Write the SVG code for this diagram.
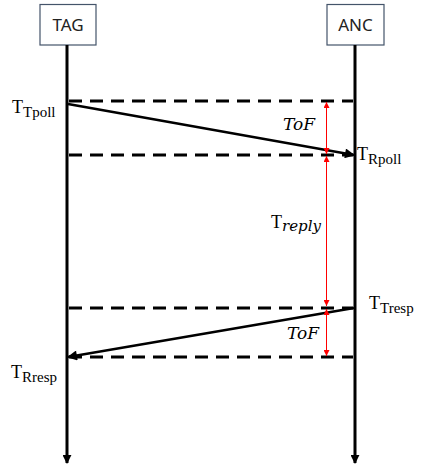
<svg xmlns="http://www.w3.org/2000/svg" width="421" height="465" viewBox="0 0 421 465">
<defs>
<style>
.box{fill:#fff;stroke:#44546a;stroke-width:1.2}
.lbl{font-family:"Noto Sans","Liberation Sans",sans-serif;font-size:17px;fill:#222;text-anchor:middle}
.life{stroke:#000;stroke-width:3;fill:none}
.dash{stroke:#000;stroke-width:3;stroke-dasharray:13 8;fill:none}
.msg{stroke:#000;stroke-width:2.5;fill:none}
.red{stroke:#f00;stroke-width:1;fill:none}
.t{font-family:"Liberation Serif","DejaVu Serif",serif;font-size:18px;fill:#000}
.sub{font-size:15px}
.it{font-family:"DejaVu Serif","Liberation Serif",serif;font-style:italic;font-size:17px;fill:#000}
</style>
<marker id="ab" viewBox="0 0 10 10" refX="9" refY="5" markerWidth="3" markerHeight="3" orient="auto-start-reverse" markerUnits="strokeWidth"><path d="M0,0 L10,5 L0,10 z" fill="#000"/></marker>
<marker id="am" viewBox="0 0 10 10" refX="9" refY="5" markerWidth="5" markerHeight="4" orient="auto-start-reverse" markerUnits="strokeWidth"><path d="M0,0 L10,5 L0,10 z" fill="#000"/></marker>
<marker id="ar" viewBox="0 0 10 10" refX="10" refY="5" markerWidth="6" markerHeight="6" orient="auto-start-reverse" markerUnits="strokeWidth"><path d="M0,0 L10,5 L0,10 z" fill="#f00"/></marker>
</defs>
<g id="TAG">
<rect class="box" x="40" y="4.5" width="56" height="40.5"/>
<text class="lbl" x="68" y="31">TAG</text>
</g>
<g id="ANC">
<rect class="box" x="327" y="4.5" width="57" height="40.5"/>
<text class="lbl" x="355.5" y="31">ANC</text>
</g>
<g id="connectors">
<line class="life" x1="67" y1="45" x2="67" y2="463" marker-end="url(#ab)"/>
<line class="life" x1="355" y1="45" x2="355" y2="463" marker-end="url(#ab)"/>
<line class="dash" x1="69" y1="101" x2="353" y2="101"/>
<line class="dash" x1="69" y1="155" x2="353" y2="155"/>
<line class="dash" x1="69" y1="308" x2="353" y2="308"/>
<line class="dash" x1="69" y1="357" x2="353" y2="357"/>
<line class="msg" x1="68" y1="104" x2="354" y2="155" marker-end="url(#am)"/>
<line class="msg" x1="354" y1="308" x2="68" y2="357" marker-end="url(#am)"/>
<line class="red" x1="326.5" y1="102" x2="326.5" y2="154" marker-start="url(#ar)" marker-end="url(#ar)"/>
<line class="red" x1="326.5" y1="156" x2="326.5" y2="306" marker-start="url(#ar)" marker-end="url(#ar)"/>
<line class="red" x1="326.5" y1="309" x2="326.5" y2="356" marker-start="url(#ar)" marker-end="url(#ar)"/>
</g>
<g id="labels">
<text class="t" x="12" y="113">T<tspan class="sub" dy="4">Tpoll</tspan></text>
<text class="t" x="357" y="160">T<tspan class="sub" dy="4">Rpoll</tspan></text>
<text class="t" x="369" y="309">T<tspan class="sub" dy="4">Tresp</tspan></text>
<text class="t" x="11" y="378">T<tspan class="sub" dy="4">Rresp</tspan></text>
<text class="t" x="271" y="228">T<tspan class="it" dy="3" style="font-size:15px">reply</tspan></text>
<text class="it" x="283" y="130">ToF</text>
<text class="it" x="287" y="339">ToF</text>
</g>
</svg>
